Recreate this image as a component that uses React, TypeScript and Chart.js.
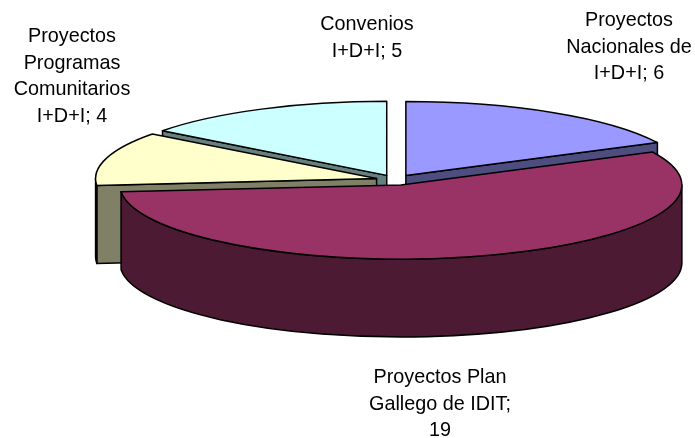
import React, { useEffect, useRef } from "react";
import { Chart, registerables } from "chart.js";

Chart.register(...registerables);

const categories = [
  "Proyectos Nacionales de I+D+I",
  "Proyectos Plan Gallego de IDIT",
  "Proyectos Programas Comunitarios I+D+I",
  "Convenios I+D+I",
];
const values = [6, 19, 4, 5];
const topColors = ["#9999FF", "#993366", "#FFFFCC", "#CCFFFF"];
const wallColors = ["#4D4D80", "#4D1A33", "#808066", "#668080"];
const labelLines = [
  ["Proyectos", "Nacionales de", "I+D+I; 6"],
  ["Proyectos Plan", "Gallego de IDIT;", "19"],
  ["Proyectos", "Programas", "Comunitarios", "I+D+I; 4"],
  ["Convenios", "I+D+I; 5"],
];
const labelAnchors = [
  { x: 629, y: 26 },
  { x: 440, y: 383 },
  { x: 72, y: 42 },
  { x: 367, y: 30 },
];

const PAINT_ORDER = [3, 0, 2, 1];
const STRETCH = 281 / 74;
const DEPTH = 78;
const EXPLODE = 0.07;
const LINE_HEIGHT = 26.7;

const pie3d = {
  id: "pie3d",
  beforeDatasetsDraw(chart: any) {
    const ctx = chart.ctx as CanvasRenderingContext2D;
    const arcs = chart.getDatasetMeta(0).data;
    const TAU = Math.PI * 2;
    const norm = (t: number) => ((t % TAU) + TAU) % TAU;

    ctx.save();
    ctx.lineWidth = 1.5;
    ctx.lineJoin = "round";
    ctx.strokeStyle = "#000000";

    for (const i of PAINT_ORDER) {
      const arc = arcs[i];
      const R = arc.outerRadius;
      const a = R * STRETCH;
      const b = R;
      const s = arc.startAngle;
      const e = arc.endAngle;
      const mid = (s + e) / 2;
      const cx = arc.x + Math.cos(mid) * EXPLODE * a;
      const cy = arc.y + Math.sin(mid) * EXPLODE * b;
      const px = (t: number) => cx + Math.cos(t) * a;
      const py = (t: number) => cy + Math.sin(t) * b;

      ctx.fillStyle = wallColors[i];
      const quad = (t: number) => {
        ctx.beginPath();
        ctx.moveTo(cx, cy);
        ctx.lineTo(px(t), py(t));
        ctx.lineTo(px(t), py(t) + DEPTH);
        ctx.lineTo(cx, cy + DEPTH);
        ctx.closePath();
        ctx.fill();
        ctx.stroke();
      };
      // Cut faces that look towards the viewer
      if (Math.cos(s) < 0) quad(s);
      if (Math.cos(e) > 0) quad(e);

      // Curved outer wall: only the front half of the ellipse (canvas angle 0..PI)
      const ns = norm(s);
      const span = e - s;
      const segStart = ns < Math.PI ? ns : ns + span > TAU ? TAU : null;
      if (segStart !== null) {
        const from = segStart;
        const to = Math.min(ns + span, TAU + Math.PI);
        const lo = Math.max(from, from >= TAU ? TAU : from);
        const hi = lo < Math.PI ? Math.min(to, Math.PI) : to;
        if (hi > lo) {
          ctx.beginPath();
          ctx.ellipse(cx, cy, a, b, 0, lo, hi);
          ctx.ellipse(cx, cy + DEPTH, a, b, 0, hi, lo, true);
          ctx.closePath();
          ctx.fill();
          ctx.stroke();
        }
      }

      // Top face
      ctx.fillStyle = topColors[i];
      ctx.beginPath();
      ctx.moveTo(cx, cy);
      ctx.ellipse(cx, cy, a, b, 0, s, e);
      ctx.closePath();
      ctx.fill();
      ctx.stroke();
    }

    // Data labels
    ctx.fillStyle = "#000000";
    ctx.font = '19.8px "Liberation Sans", Arial, sans-serif';
    ctx.textAlign = "center";
    ctx.textBaseline = "alphabetic";
    labelLines.forEach((lines, i) => {
      lines.forEach((line, j) => {
        ctx.fillText(line, labelAnchors[i].x, labelAnchors[i].y + j * LINE_HEIGHT);
      });
    });
    ctx.restore();
    return false;
  },
};

export default function App() {
  const ref = useRef<HTMLCanvasElement | null>(null);
  useEffect(() => {
    document.body.style.margin = "0";
    const chart = new Chart(ref.current as HTMLCanvasElement, {
      type: "pie",
      data: {
        labels: categories,
        datasets: [{ data: values, backgroundColor: topColors, borderWidth: 0 }],
      },
      options: {
        responsive: false,
        animation: false,
        rotation: 0,
        layout: { padding: { top: 106, bottom: 184, left: 321, right: 225 } },
        plugins: { legend: { display: false }, tooltip: { enabled: false } },
      },
      plugins: [pie3d],
    } as any);
    return () => chart.destroy();
  }, []);
  return <canvas ref={ref} width={695} height={438} style={{ display: "block" }} />;
}
